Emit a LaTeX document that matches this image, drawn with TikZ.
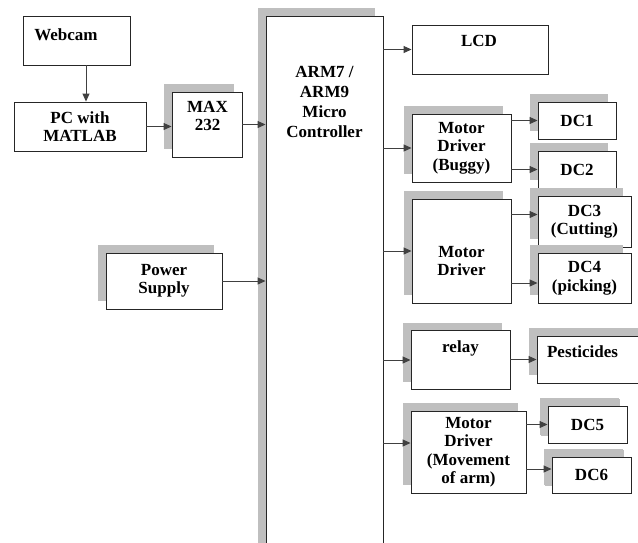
\documentclass[tikz,border=0pt]{standalone}
\usepackage{fontspec}
\setmainfont{Liberation Serif}
\usetikzlibrary{arrows.meta,shadows}

\tikzset{
  box/.style={draw=black!85, line width=0.9pt, fill=white, inner sep=2pt, align=center,
    font=\fontsize{17}{18.5}\selectfont\bfseries},
  shbox/.style={box, drop shadow={shadow xshift=-8pt, shadow yshift=8pt, fill=gray!50, opacity=1}},
  txt/.style={inner sep=0pt, align=center, anchor=north,
    font=\fontsize{17}{18.5}\selectfont\bfseries},
  arr/.style={draw=black!75, line width=1pt, -{Triangle[length=8pt,width=7pt]}},
}

\begin{document}
\begin{tikzpicture}[x=1pt,y=-1pt]
  \clip (0,0) rectangle (638,542);
  \fill[white] (0,0) rectangle (638,542);
  % left side
  \node[box, minimum width=107pt, minimum height=49pt] (webcam) at (76.5,40.5) {};
  \node[txt] (webcamtxt) at (66,28) {Webcam};
  \node[box, minimum width=132pt, minimum height=49pt] (pc) at (80,126.5) {PC with\\MATLAB};
  \node[shbox, minimum width=70pt, minimum height=65pt] (max) at (207,124.5) {};
  \node[txt] (maxtxt) at (207.5,101) {MAX\\232};
  \node[shbox, minimum width=116pt, minimum height=56pt] (power) at (164,281) {Power\\Supply};
  % controller
  \node[shbox, minimum width=117pt, minimum height=544pt] (arm) at (324.5,288) {};
  \node[txt, font=\fontsize{17}{20}\selectfont\bfseries] (armtxt) at (324.5,66) {ARM7 /\\ARM9\\Micro\\Controller};
  % right side
  \node[box, minimum width=136pt, minimum height=49pt] (lcd) at (480,49.5) {};
  \node[txt] (lcdtxt) at (479,35) {LCD};
  \node[shbox, minimum width=99pt, minimum height=68pt] (md1) at (461.5,148) {Motor\\Driver\\(Buggy)};
  \node[shbox, minimum width=78pt, minimum height=37pt] (dc1) at (577,120.5) {DC1};
  \node[shbox, minimum width=78pt, minimum height=37pt] (dc2) at (577,169.5) {DC2};
  \node[shbox, minimum width=99pt, minimum height=104pt] (md2) at (461.5,251) {};
  \node[txt] (md2txt) at (461.5,246) {Motor\\Driver};
  \node[shbox, minimum width=93pt, minimum height=51pt] (dc3) at (584.5,221.5) {DC3\\(Cutting)};
  \node[shbox, minimum width=93pt, minimum height=50pt] (dc4) at (584.5,278) {DC4\\(picking)};
  \node[shbox, minimum width=99pt, minimum height=59pt] (relay) at (460.5,360) {};
  \node[txt] (relaytxt) at (460.5,340) {relay};
  \node[shbox, minimum width=113pt, minimum height=47pt] (pest) at (593.5,359.5) {};
  \node[txt] (pesttxt) at (582.5,345) {Pesticides};
  \node[shbox, minimum width=115pt, minimum height=82pt] (md3) at (468.5,452) {Motor\\Driver\\(Movement\\of arm)};
  \node[shbox, minimum width=79pt, minimum height=37pt, drop shadow={shadow xshift=-7pt, shadow yshift=7pt, fill=gray!50, opacity=1}] (dc5) at (587.5,424.5) {DC5};
  \node[shbox, minimum width=79pt, minimum height=36pt, drop shadow={shadow xshift=-7pt, shadow yshift=7pt, fill=gray!50, opacity=1}] (dc6) at (591.5,475) {DC6};
  % connectors
  \draw[arr] ([xshift=9.5pt]webcam.south) -- ([xshift=9.5pt]webcam.south |- pc.north);
  \draw[arr] (pc.east) -- (pc.east -| max.west);
  \draw[arr] (max.east) -- (max.east -| arm.west);
  \draw[arr] (power.east) -- (power.east -| arm.west);
  \draw[arr] (arm.east |- lcd.west) -- (lcd.west);
  \draw[arr] (arm.east |- md1.west) -- (md1.west);
  \draw[arr] (arm.east |- md2.west) -- (md2.west);
  \draw[arr] (arm.east |- relay.west) -- (relay.west);
  \draw[arr] (arm.east |- md3.west) ++(0,-9) -- ([yshift=9pt]md3.west);
  \draw[arr] (md1.east |- dc1.west) -- (dc1.west);
  \draw[arr] (md1.east |- dc2.west) -- (dc2.west);
  \draw[arr] (md2.east |- dc3.west) ++(0,-7) -- ([yshift=7pt]dc3.west);
  \draw[arr] (md2.east |- dc4.west) ++(0,5) -- ([yshift=-5pt]dc4.west);
  \draw[arr] (relay.east |- pest.west) -- (pest.west);
  \draw[arr] (md3.east |- dc5.west) -- (dc5.west);
  \draw[arr] (md3.east |- dc6.west) ++(0,-6) -- ([yshift=6pt]dc6.west);
\end{tikzpicture}
\end{document}
